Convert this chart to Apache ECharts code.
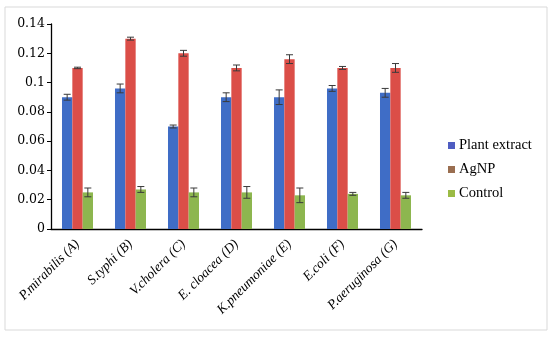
<!DOCTYPE html>
<html><head><meta charset="utf-8">
<script src="https://cdn.jsdelivr.net/npm/echarts@6/dist/echarts.min.js"></script>
<style>html,body{margin:0;padding:0;background:#fff}#c{width:550px;height:340px}</style>
</head><body><div id="c"></div>
<script>
const categories = ['P.mirabilis (A)','S.typhi (B)','V.cholera (C)','E. cloacea (D)','K.pneumoniae (E)','E.coli (F)','P.aeruginosa (G)'];
const seriesNames = ['Plant extract','AgNP','Control'];
const plantExtract = [0.090,0.096,0.070,0.090,0.090,0.096,0.093];
const agnp = [0.110,0.130,0.120,0.110,0.116,0.110,0.110];
const control = [0.025,0.027,0.025,0.025,0.023,0.024,0.023];
const plantErr = [0.002,0.003,0.001,0.003,0.005,0.002,0.003];
const agnpErr = [0.0005,0.001,0.002,0.002,0.003,0.001,0.003];
const controlErr = [0.003,0.002,0.003,0.004,0.005,0.001,0.002];
const yTicks = [0,0.02,0.04,0.06,0.08,0.1,0.12,0.14];

const colors = ['#3F6DC6','#DB4E48','#8DB64F'];
const legendColors = ['#4F5DC2','#9A6E50','#9BBB45'];
const values = [plantExtract, agnp, control];
const errs = [plantErr, agnpErr, controlErr];
const catGap = 0.415;
const font = '"Liberation Serif", "DejaVu Serif", serif';

function errSeries(idx){
  return {
    type:'custom', name: seriesNames[idx]+' err', z:10,
    data: values[idx].map((v,i)=>[i, v, errs[idx][i]]),
    renderItem: function(params, api){
      const x = api.value(0), v = api.value(1), e = api.value(2);
      const band = api.size([1,0])[0];
      const bw = band*(1-catGap)/3;
      const off = (idx-1)*bw;
      const top = api.coord([x, v+e]);
      const bot = api.coord([x, v-e]);
      const cx = top[0]+off;
      const hw = 3.5;
      const st = {stroke:'#3a3a3a', lineWidth:1};
      return {type:'group', children:[
        {type:'line', shape:{x1:cx,y1:top[1],x2:cx,y2:bot[1]}, style:st},
        {type:'line', shape:{x1:cx-hw,y1:top[1],x2:cx+hw,y2:top[1]}, style:st},
        {type:'line', shape:{x1:cx-hw,y1:bot[1],x2:cx+hw,y2:bot[1]}, style:st}
      ]};
    }
  };
}

const chart = echarts.init(document.getElementById('c'));
chart.setOption({
  animation:false,
  backgroundColor:'#fff',
  graphic:[{type:'rect', shape:{x:5,y:7,width:542,height:323}, style:{fill:'none', stroke:'#d9d9d9', lineWidth:1}, silent:true}],
  legend:{
    orient:'vertical', left:443, top:133, itemGap:9, itemWidth:7, itemHeight:7,
    icon:'rect',
    data: seriesNames.map((n,i)=>({name:n, itemStyle:{color:legendColors[i]}})),
    textStyle:{fontFamily:font, fontSize:14.5, color:'#000', padding:[0,0,0,-1]}
  },
  grid:{left:51, right:128, top:24, bottom:111, containLabel:false},
  xAxis:{
    type:'category', data:categories,
    axisLine:{lineStyle:{color:'#000', width:1.3}},
    axisTick:{show:false},
    axisLabel:{rotate:45, interval:0, fontFamily:font, fontStyle:'italic', fontSize:13.5, color:'#000', margin:13}
  },
  yAxis:{
    type:'value', min:0, max:0.14, interval:0.02,
    axisLine:{show:true, lineStyle:{color:'#000', width:1.3}},
    axisTick:{show:true, inside:false, length:4, lineStyle:{color:'#000'}},
    splitLine:{show:false},
    axisLabel:{fontFamily:'"DejaVu Serif", serif', fontSize:12.5, color:'#000', margin:6,
      formatter: v => { const t = yTicks.find(x=>Math.abs(x-v)<1e-9); return t===undefined? '' : String(+t.toFixed(2)); }}
  },
  series:[
    ...values.map((arr,i)=>({
      type:'bar', name:seriesNames[i], data:arr,
      itemStyle:{color:colors[i]},
      barGap:'0%', barCategoryGap:(catGap*100)+'%'
    })),
    errSeries(0), errSeries(1), errSeries(2)
  ]
});
</script></body></html>
